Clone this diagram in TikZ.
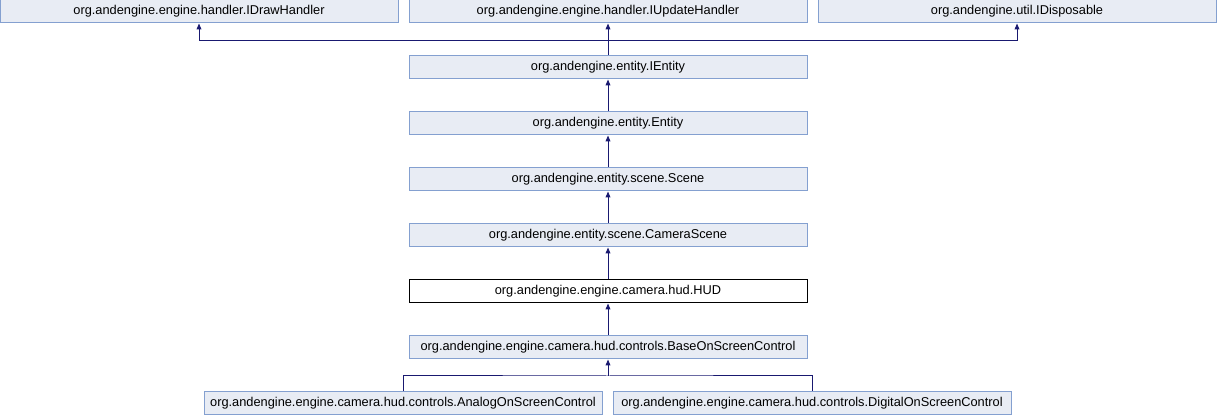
\documentclass[tikz,border=0pt]{standalone}
\usepackage{fontspec}
\setmainfont{Liberation Sans}
\usetikzlibrary{arrows.meta}
\definecolor{boxfill}{HTML}{E8ECF4}
\definecolor{boxline}{HTML}{84A0D0}
\definecolor{edgeblue}{HTML}{191970}

\begin{document}
\begin{tikzpicture}[x=0.75pt,y=-0.75pt,line width=0.75pt,
  cls/.style={draw=boxline,fill=boxfill,minimum width=298.5pt,minimum height=17.25pt,
    inner sep=0pt,font=\fontsize{9.6}{11}\selectfont},
  cur/.style={cls,draw=black,fill=white},
  inh/.style={draw=edgeblue,-{Triangle[length=4.5pt,width=3.6pt]}}]
  \useasboundingbox (0,0) rectangle (1217,416);
  % top row
  \node[cls] (drawh) at (199,11.5) {org.andengine.engine.handler.IDrawHandler};
  \node[cls] (updh) at (608,11.5) {org.andengine.engine.handler.IUpdateHandler};
  \node[cls] (disp) at (1017,11.5) {org.andengine.util.IDisposable};
  % main column
  \node[cls] (ientity) at (608,67.5) {org.andengine.entity.IEntity};
  \node[cls] (entity) at (608,123.5) {org.andengine.entity.Entity};
  \node[cls] (scene) at (608,179.5) {org.andengine.entity.scene.Scene};
  \node[cls] (camscene) at (608,235.5) {org.andengine.entity.scene.CameraScene};
  \node[cur] (hud) at (608,291.5) {org.andengine.engine.camera.hud.HUD};
  \node[cls] (base) at (608,347.5) {org.andengine.engine.camera.hud.controls.BaseOnScreenControl};
  % bottom row
  \node[cls] (analog) at (403,403.5) {org.andengine.engine.camera.hud.controls.AnalogOnScreenControl};
  \node[cls] (digital) at (812,403.5) {org.andengine.engine.camera.hud.controls.DigitalOnScreenControl};

  \coordinate (topjoin) at (608,41);
  \coordinate (botjoin) at (608,376);
  \draw[inh] (ientity.north) -- (updh.south);
  \draw[inh] (topjoin) -| (drawh.south);
  \draw[inh] (topjoin) -| (disp.south);
  \foreach \lo/\hi in {entity/ientity,scene/entity,camscene/scene,hud/camscene,base/hud}
    \draw[inh] (\lo.north) -- (\hi.south);
  \draw[edgeblue] (analog.north) |- (botjoin) -| (digital.north);
  \draw[inh] (botjoin) -- (base.south);
\end{tikzpicture}
\end{document}
